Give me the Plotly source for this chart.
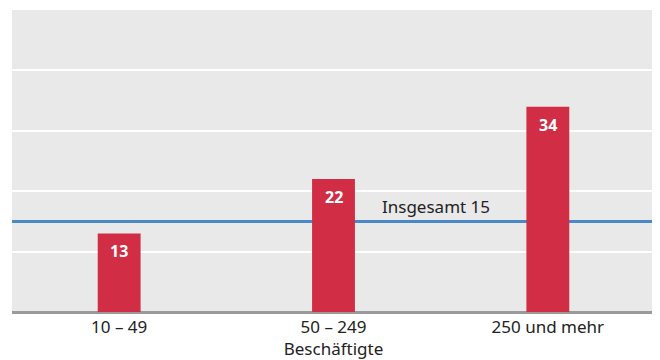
import plotly.graph_objects as go

categories = ["10 – 49", "50 – 249", "250 und mehr"]
values = [13, 22, 34]
total_value = 15
total_label = "Insgesamt 15"
x_title = "Beschäftigte"

bar_color = "#d12e45"
line_color = "#4a88c9"
font_family = "Noto Sans, Open Sans, sans-serif"

fig = go.Figure()
fig.add_trace(go.Bar(
    x=categories, y=values, width=0.2,
    marker=dict(color=bar_color, line=dict(width=0)),
    hoverinfo="skip",
))

for c, v in zip(categories, values):
    fig.add_annotation(x=c, y=v, xref="x", yref="y", text=str(v), showarrow=False,
                       yanchor="middle", yshift=-18,
                       font=dict(size=16, color="white", family=font_family, weight="bold"))

fig.add_shape(type="line", xref="paper", x0=0, x1=1, yref="y", y0=total_value, y1=total_value,
              line=dict(color=line_color, width=3), layer="between")

fig.add_annotation(x=1.48, y=total_value, xref="x", yref="y", text=total_label,
                   showarrow=False, yanchor="bottom", yshift=1,
                   font=dict(size=17, color="#222", family=font_family))

fig.update_layout(
    width=652, height=352,
    margin=dict(l=4, r=5, t=2, b=48),
    paper_bgcolor="white", plot_bgcolor="#e9e9e9",
    showlegend=False,
    font=dict(family=font_family, size=17, color="#222"),
)
fig.update_xaxes(
    title=dict(text=x_title, standoff=8, font=dict(size=17)),
    showgrid=False, showline=False, ticks="outside", ticklen=0, tickcolor="rgba(0,0,0,0)",
    tickfont=dict(size=17),
)
fig.update_yaxes(
    range=[0, 50], dtick=10, showticklabels=False, showgrid=True,
    gridcolor="white", gridwidth=2, zeroline=True, zerolinecolor="#9a9a9a", zerolinewidth=3,
    showline=False, ticks="",
)

fig.write_html("out.html")
